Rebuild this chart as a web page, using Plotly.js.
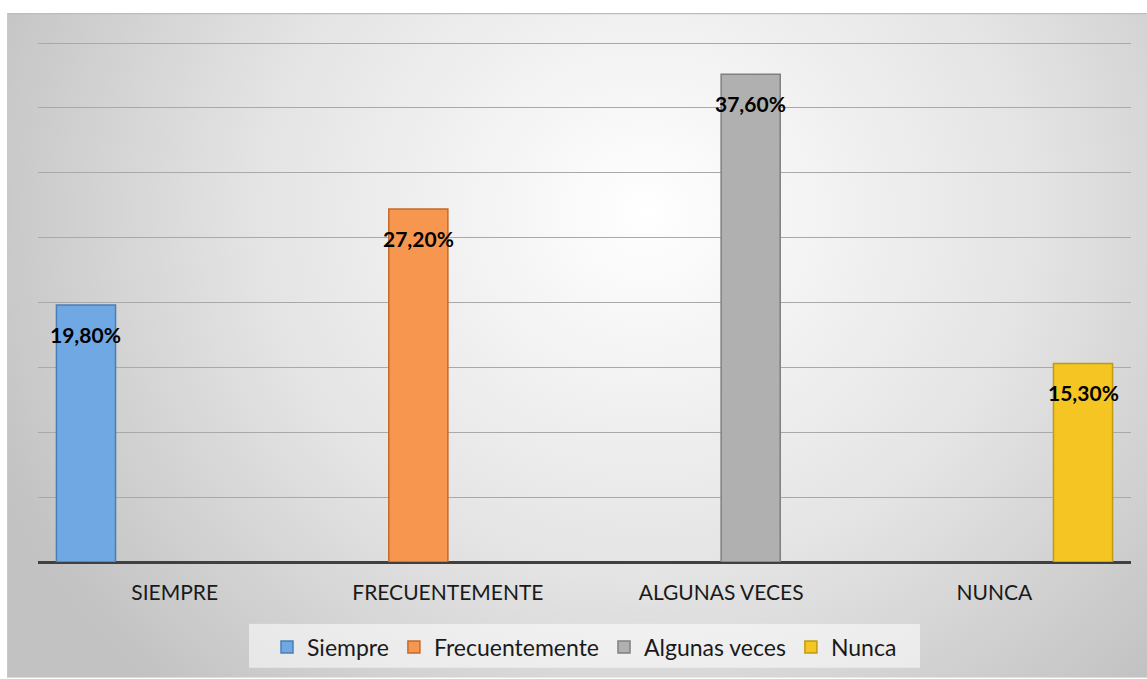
<!DOCTYPE html>
<html>
<head>
<meta charset="utf-8">
<script src="https://cdn.plot.ly/plotly-3.0.1.min.js"></script>
<style>html,body{margin:0;padding:0;background:#fff;}#chart{width:1147px;height:679px;}</style>
</head>
<body>
<div id="chart"></div>
<script>
// ---- data ----
const categories = ['SIEMPRE', 'FRECUENTEMENTE', 'ALGUNAS VECES', 'NUNCA'];
const seriesNames = ['Siempre', 'Frecuentemente', 'Algunas veces', 'Nunca'];
const siempreValues = [19.8, null, null, null];
const frecuentementeValues = [null, 27.2, null, null];
const algunasVecesValues = [null, null, 37.6, null];
const nuncaValues = [null, null, null, 15.3];
const yTickValues = [0, 5, 10, 15, 20, 25, 30, 35, 40];

// ---- styles ----
const seriesValues = [siempreValues, frecuentementeValues, algunasVecesValues, nuncaValues];
const fillColors = ['#6fa8e2', '#f7964f', '#b0b0b0', '#f5c623'];
const lineColors = ['#4a7fb5', '#c46a2a', '#7f7f7f', '#c09a10'];
const FONT = 'Lato, "Open Sans", sans-serif';
const W = 1147, H = 679;
const M = {l: 38, r: 16, t: 42, b: 116};
const BARGAP = 0.135;
const plotW = W - M.l - M.r;
const plotH = H - M.t - M.b;
const barPx = plotW / categories.length * (1 - BARGAP) / seriesNames.length;

const traces = seriesNames.map((name, i) => ({
  type: 'bar',
  name: name,
  x: categories,
  y: seriesValues[i],
  marker: {color: fillColors[i], line: {color: lineColors[i], width: 1.5}},
  hoverinfo: 'skip'
}));

const fmt = v => v.toFixed(2).replace('.', ',') + '%';
const annotations = [];
seriesValues.forEach((vals, i) => {
  vals.forEach((v, j) => {
    if (v === null) return;
    annotations.push({
      x: categories[j], y: v, xref: 'x', yref: 'y',
      xshift: (i - (seriesNames.length - 1) / 2) * barPx,
      yshift: -29, yanchor: 'middle', xanchor: 'center',
      showarrow: false, text: '<b>' + fmt(v) + '</b>',
      font: {family: FONT, size: 21, color: '#000'}
    });
  });
});

// background (radial gradient frame + legend box) as svg image
const frameX0 = 7, frameY0 = 13;
const legBox = {x: 249, y: 625, w: 671, h: 44};
const bgSvg = `<svg xmlns="http://www.w3.org/2000/svg" width="${W - frameX0}" height="${H - frameY0}" preserveAspectRatio="none">
<defs><radialGradient id="g" cx="0.56" cy="0.3" r="0.62" gradientTransform="translate(0.56 0.3) scale(1 1.6) translate(-0.56 -0.3)">
<stop offset="0" stop-color="#ffffff"/><stop offset="0.55" stop-color="#e4e4e4"/><stop offset="1" stop-color="#c2c2c2"/></radialGradient></defs>
<rect x="0" y="0" width="${W - frameX0}" height="${H - frameY0}" fill="url(#g)"/>
<rect x="${legBox.x - frameX0}" y="${legBox.y - frameY0}" width="${legBox.w}" height="${legBox.h}" fill="#ffffff" fill-opacity="0.55"/>
<line x1="0" y1="0.5" x2="${W}" y2="0.5" stroke="#bdbdbd" stroke-width="1.5"/>
<line x1="0.5" y1="0" x2="0.5" y2="${H}" stroke="#c8c8c8" stroke-width="1"/>
</svg>`;
const bgSrc = 'data:image/svg+xml;charset=utf-8,' + encodeURIComponent(bgSvg);

const layout = {
  width: W, height: H,
  margin: M,
  paper_bgcolor: '#ffffff',
  plot_bgcolor: 'rgba(0,0,0,0)',
  barmode: 'group',
  bargap: BARGAP,
  bargroupgap: 0,
  hovermode: false,
  showlegend: true,
  font: {family: FONT, color: '#1a1a1a'},
  images: [{
    source: bgSrc, xref: 'paper', yref: 'paper',
    x: (frameX0 - M.l) / plotW, y: (M.t + plotH - frameY0) / plotH,
    sizex: (W - frameX0) / plotW, sizey: (H - frameY0) / plotH,
    xanchor: 'left', yanchor: 'top', sizing: 'stretch', layer: 'below'
  }],
  xaxis: {
    type: 'category',
    showgrid: false, zeroline: false,
    showline: false,
    ticks: '',
    ticklabelstandoff: 16,
    tickfont: {family: FONT, size: 21, color: '#1a1a1a'}
  },
  yaxis: {
    range: [0, 40.08],
    tickvals: yTickValues,
    showticklabels: false,
    showgrid: true, gridcolor: '#a9a9a9', gridwidth: 1,
    zeroline: true, zerolinecolor: '#404040', zerolinewidth: 3,
    ticks: '', fixedrange: true
  },
  legend: {
    orientation: 'h',
    x: 0.5, xanchor: 'center',
    y: (M.t + plotH - (legBox.y + legBox.h / 2)) / plotH, yanchor: 'middle',
    bgcolor: 'rgba(0,0,0,0)',
    borderwidth: 0,
    font: {family: FONT, size: 23, color: '#1a1a1a'},
    itemwidth: 30,
    traceorder: 'normal'
  },
  annotations: annotations
};

Plotly.newPlot('chart', traces, layout, {displayModeBar: false, staticPlot: true});
</script>
</body>
</html>
